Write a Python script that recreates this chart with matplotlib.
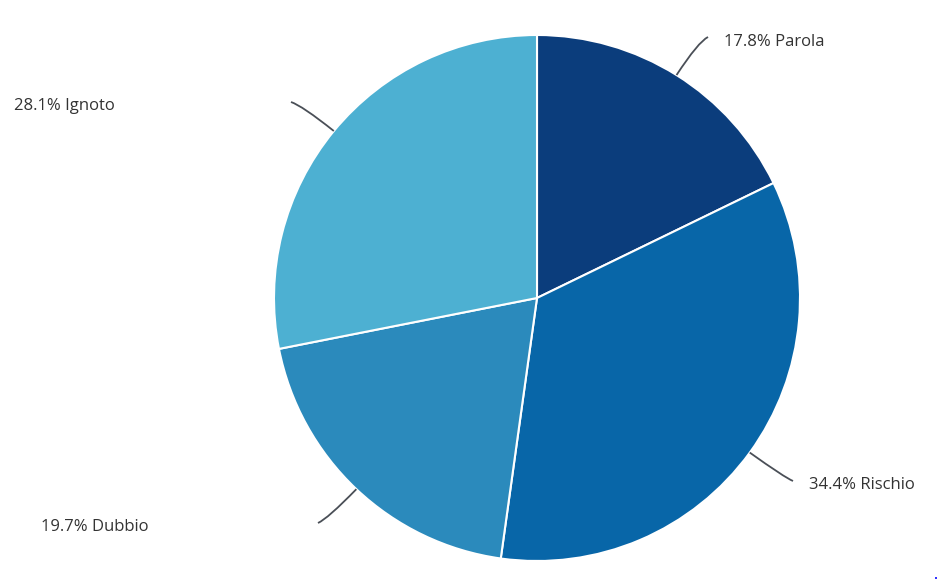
import numpy as np
import matplotlib
matplotlib.use('Agg')
import matplotlib.pyplot as plt
from matplotlib.path import Path
import matplotlib.patches as mpatches

labels = ['Parola', 'Rischio', 'Dubbio', 'Ignoto']
shares = [17.8, 34.4, 19.7, 28.1]
colors = ['#0b3d7c', '#0866a8', '#2b8abc', '#4db0d2']

# label anchors (pixel coords, y from top) and connector ends
text_pos = [(724, 42), (809, 485), (41, 527), (14, 106)]
line_end = [(708, 37), (793, 481), (318, 523), (291, 102)]

W, H = 940, 583
cx, cy, r = 537, 298, 263

fig = plt.figure(figsize=(9.4, 5.83), dpi=100)
ax = fig.add_axes([0, 0, 1, 1])

ax.pie(shares, colors=colors, startangle=90, counterclock=False,
       center=(cx, H - cy), radius=r,
       wedgeprops=dict(edgecolor='white', linewidth=1.5))
# pie resets the limits, so set them afterwards
ax.set_xlim(0, W)
ax.set_ylim(0, H)
ax.set_aspect('equal')
ax.axis('off')

cum = np.cumsum([0] + shares[:-1])
for i, lab in enumerate(labels):
    mid = (cum[i] + shares[i] / 2) / 100 * 2 * np.pi
    dx, dy = np.sin(mid), np.cos(mid)
    sx, sy = cx + r * dx, (H - cy) + r * dy
    ex, ey = line_end[i][0], H - line_end[i][1]
    # control point: radial line meets the horizontal through the end point
    t = (ey - sy) / dy
    kx, ky = sx + t * dx, ey
    kx, ky = 0.75 * kx + 0.25 * (sx + ex) / 2, 0.75 * ky + 0.25 * (sy + ey) / 2
    path = Path([(sx, sy), (kx, ky), (ex, ey)], [Path.MOVETO, Path.CURVE3, Path.CURVE3])
    ax.add_patch(mpatches.PathPatch(path, fill=False, edgecolor='#4a4f57', lw=1.3))
    tx, ty = text_pos[i]
    ax.text(tx, H - ty, '%.1f%% %s' % (shares[i], lab), ha='left', va='center',
            fontsize=12, family='Open Sans', color='#333333')

ax.plot([936], [H - 578], marker='s', ms=1.5, color='#3333ff', mew=0)

fig.savefig('out.png', dpi=100)
